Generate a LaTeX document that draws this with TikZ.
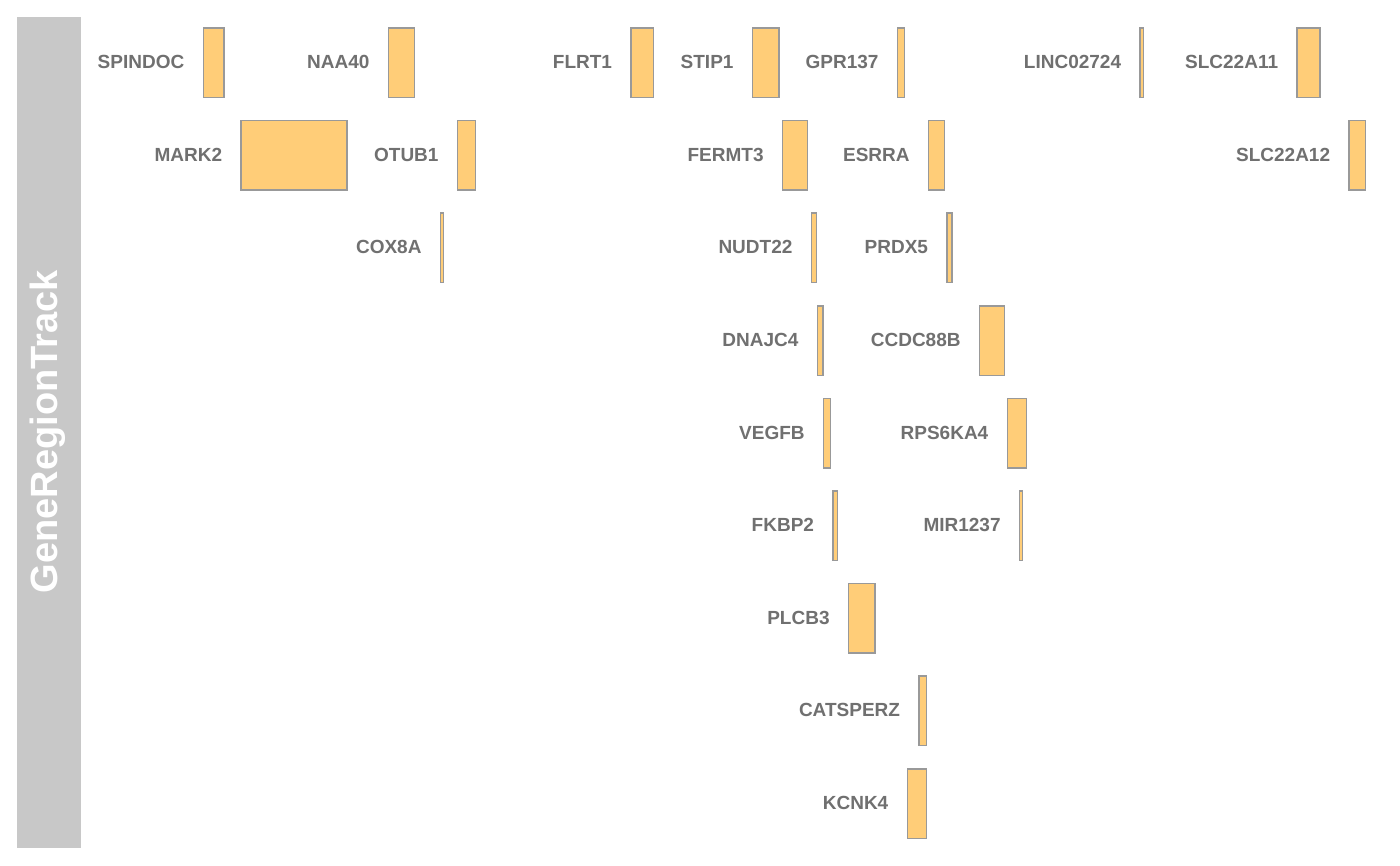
\documentclass[tikz,border=0pt]{standalone}
\usepackage{fontspec}
\setmainfont{Liberation Sans}
\definecolor{genefill}{HTML}{FFCD78}
\definecolor{geneline}{HTML}{999999}
\definecolor{labelgray}{HTML}{707070}
\definecolor{panelgray}{HTML}{C8C8C8}
\tikzset{
  genebox/.style={draw=geneline, fill=genefill, line width=1.5pt, inner sep=0pt, anchor=north west, minimum height=69.5pt},
  genelabel/.style={text=labelgray, font=\fontsize{19}{19}\selectfont\bfseries, inner sep=0pt, anchor=east, text height=13.6pt, text depth=0pt},
  panel/.style={fill=panelgray, draw=none},
  paneltext/.style={text=white, font=\fontsize{38}{38}\selectfont\bfseries, rotate=90, anchor=base, inner sep=0pt}
}
\newcommand\genebar[4]{%
  \pgfmathsetmacro\gtop{27.2+92.6*(#4-1)}%
  \pgfmathsetmacro\gmid{\gtop+34.75}%
  \pgfmathsetmacro\gw{#3-#2}%
  \node[genebox, minimum width=\gw pt] (#1) at (#2,\gtop) {};
  \node[genelabel] (#1-label) at (#2-18,\gmid) {#1};
}
\begin{document}
\begin{tikzpicture}[x=1pt,y=-1pt]
\useasboundingbox (0,0) rectangle (1400,865);
\fill[white] (0,0) rectangle (1400,865);
\node[panel, minimum width=64pt, minimum height=831pt, inner sep=0pt, anchor=north west] (titlepanel) at (17,17) {};
\node[paneltext] (title) at (57,431.5) {GeneRegionTrack};
% row 1
\genebar{SPINDOC}{202.5}{223.2}{1}
\genebar{NAA40}{387.7}{413.7}{1}
\genebar{FLRT1}{630.2}{652.8}{1}
\genebar{STIP1}{751.7}{778.3}{1}
\genebar{GPR137}{896.7}{903.8}{1}
\genebar{LINC02724}{1139.3}{1142.8}{1}
\genebar{SLC22A11}{1296.3}{1319.3}{1}
% row 2
\genebar{MARK2}{240.3}{346.3}{2}
\genebar{OTUB1}{456.7}{474.5}{2}
\genebar{FERMT3}{781.8}{806.8}{2}
\genebar{ESRRA}{927.8}{943.8}{2}
\genebar{SLC22A12}{1348.3}{1364.8}{2}
% row 3
\genebar{COX8A}{439.7}{442.8}{3}
\genebar{NUDT22}{810.6}{815.8}{3}
\genebar{PRDX5}{946.2}{951.2}{3}
% row 4
\genebar{DNAJC4}{816.6}{822.2}{4}
\genebar{CCDC88B}{978.8}{1003.6}{4}
% row 5
\genebar{VEGFB}{822.8}{829.6}{5}
\genebar{RPS6KA4}{1006.5}{1025.6}{5}
% row 6
\genebar{FKBP2}{832.2}{836.8}{6}
\genebar{MIR1237}{1018.8}{1021.6}{6}
% row 7
\genebar{PLCB3}{847.8}{874.3}{7}
% row 8
\genebar{CATSPERZ}{918.2}{925.8}{8}
% row 9
\genebar{KCNK4}{906.5}{925.8}{9}
\end{tikzpicture}
\end{document}
